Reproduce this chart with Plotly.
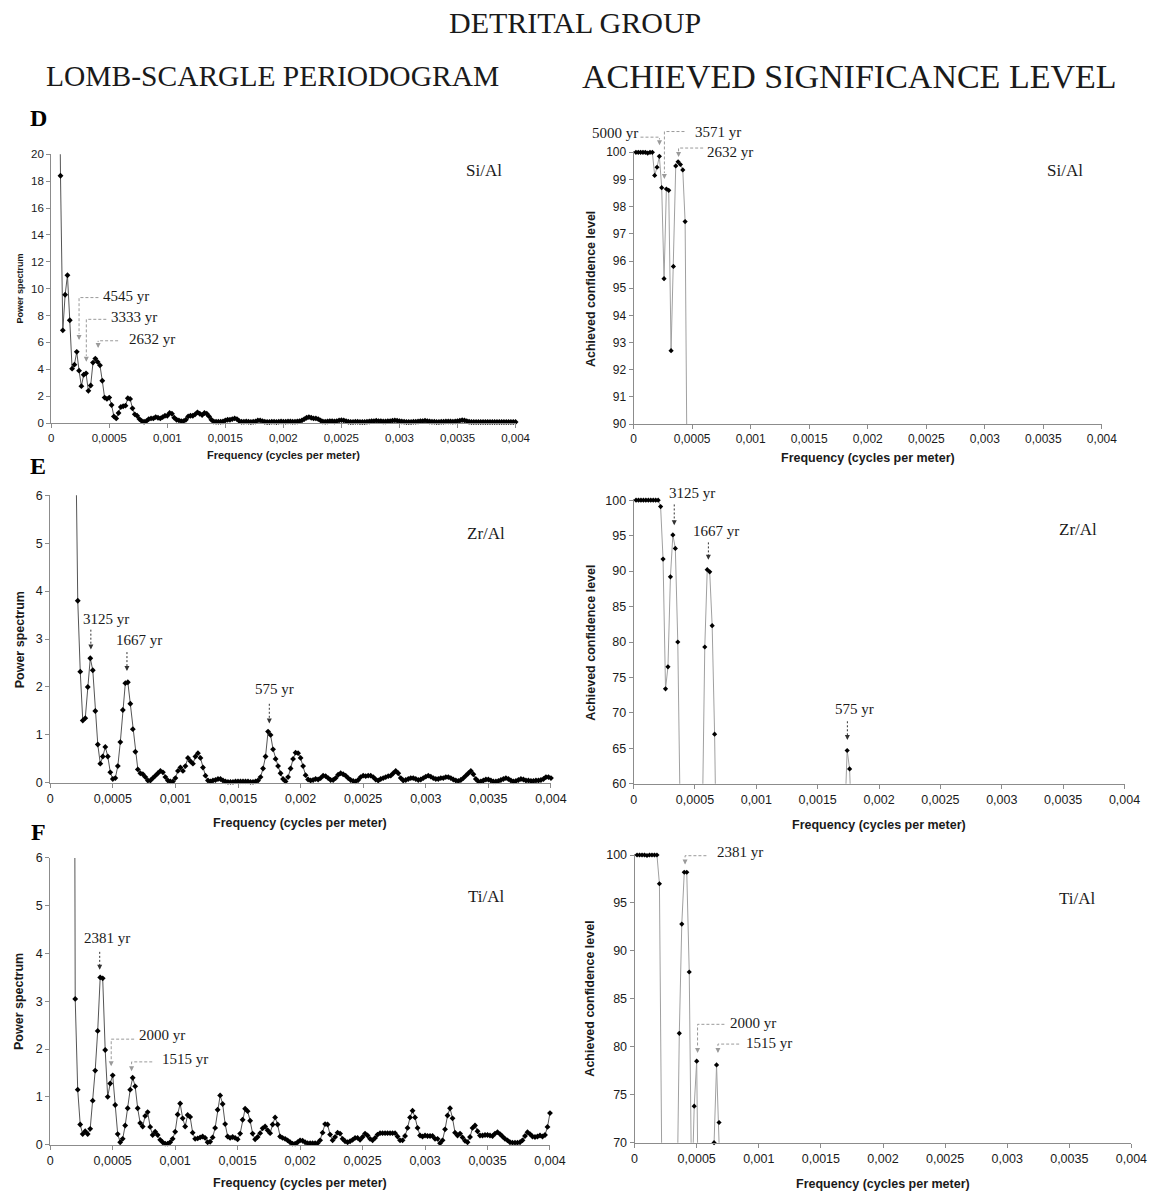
import numpy as np
import plotly.graph_objects as go

W, H = 1172, 1203
SERIF = "Liberation Serif"
SANS = "Liberation Sans"

# ---------------- data ----------------
FREQ_STEP = 2e-5                      # frequency grid step (cycles per meter)
k_index = np.arange(1, 201)
freq = k_index * FREQ_STEP            # 0.00002 ... 0.004

x_tick_vals = [0, 0.0005, 0.001, 0.0015, 0.002, 0.0025, 0.003, 0.0035, 0.004]
x_tick_text = ["0", "0,0005", "0,001", "0,0015", "0,002", "0,0025", "0,003", "0,0035", "0,004"]

# Lomb-Scargle power, Si/Al
power_si_al = [
    95, 62, 38, 18.4, 6.9, 9.55, 11.0, 7.65, 4.05, 4.35,
    5.3, 3.9, 2.75, 3.6, 3.7, 2.4, 2.8, 4.5, 4.8, 4.55,
    4.3, 3.15, 1.9, 1.8, 1.9, 1.35, 0.5, 0.35, 0.75, 1.2,
    1.25, 1.3, 1.85, 1.8, 1.1, 0.65, 0.55, 0.3, 0.15, 0.1,
    0.15, 0.3, 0.35, 0.35, 0.45, 0.4, 0.35, 0.45, 0.55, 0.55,
    0.75, 0.7, 0.4, 0.25, 0.2, 0.15, 0.15, 0.25, 0.5, 0.55,
    0.55, 0.65, 0.8, 0.7, 0.6, 0.75, 0.7, 0.5, 0.25, 0.12,
    0.1, 0.1, 0.1, 0.12, 0.2, 0.25, 0.25, 0.3, 0.35, 0.3,
    0.15, 0.1, 0.1, 0.12, 0.1, 0.08, 0.1, 0.12, 0.2, 0.2,
    0.15, 0.1, 0.08, 0.08, 0.1, 0.1, 0.08, 0.1, 0.12, 0.1,
    0.1, 0.12, 0.12, 0.1, 0.1, 0.12, 0.15, 0.2, 0.3, 0.4,
    0.45, 0.4, 0.35, 0.35, 0.3, 0.2, 0.12, 0.1, 0.12, 0.15,
    0.15, 0.12, 0.15, 0.2, 0.22, 0.2, 0.15, 0.1, 0.08, 0.08,
    0.1, 0.1, 0.08, 0.08, 0.08, 0.1, 0.12, 0.15, 0.15, 0.18,
    0.15, 0.15, 0.12, 0.12, 0.15, 0.15, 0.18, 0.2, 0.18, 0.15,
    0.12, 0.1, 0.08, 0.08, 0.08, 0.1, 0.1, 0.12, 0.15, 0.15,
    0.18, 0.15, 0.12, 0.1, 0.1, 0.08, 0.08, 0.1, 0.1, 0.12,
    0.12, 0.12, 0.1, 0.12, 0.15, 0.18, 0.22, 0.2, 0.15, 0.1,
    0.08, 0.08, 0.08, 0.08, 0.08, 0.08, 0.08, 0.08, 0.08, 0.08,
    0.08, 0.08, 0.08, 0.08, 0.08, 0.08, 0.08, 0.08, 0.08, 0.08,
]

# Lomb-Scargle power, Zr/Al
power_zr_al = [
    40, 35, 30, 26, 22, 18, 15, 12, 10, 8,
    3.8, 2.32, 1.3, 1.35, 2.0, 2.6, 2.35, 1.5, 0.8, 0.4,
    0.55, 0.75, 0.55, 0.22, 0.08, 0.1, 0.35, 0.85, 1.52, 2.08,
    2.1, 1.65, 1.12, 0.65, 0.28, 0.2, 0.18, 0.12, 0.05, 0.05,
    0.1, 0.15, 0.2, 0.25, 0.22, 0.12, 0.05, 0.03, 0.03, 0.1,
    0.25, 0.32, 0.25, 0.35, 0.52, 0.45, 0.4, 0.55, 0.62, 0.52,
    0.32, 0.15, 0.05, 0.03, 0.05, 0.06, 0.08, 0.08, 0.05, 0.03,
    0.02, 0.02, 0.02, 0.03, 0.03, 0.03, 0.03, 0.03, 0.03, 0.02,
    0.02, 0.03, 0.05, 0.12, 0.3, 0.55, 1.07, 1.0, 0.7, 0.5,
    0.35, 0.2, 0.08, 0.03, 0.12, 0.3, 0.5, 0.63, 0.62, 0.52,
    0.35, 0.16, 0.07, 0.05, 0.06, 0.08, 0.07, 0.1, 0.15, 0.14,
    0.1, 0.06, 0.06, 0.1, 0.17, 0.2, 0.18, 0.15, 0.1, 0.06,
    0.04, 0.03, 0.06, 0.12, 0.15, 0.14, 0.15, 0.15, 0.12, 0.07,
    0.05, 0.08, 0.1, 0.12, 0.14, 0.15, 0.2, 0.25, 0.2, 0.1,
    0.05, 0.06, 0.08, 0.1, 0.1, 0.08, 0.06, 0.07, 0.1, 0.13,
    0.15, 0.13, 0.1, 0.08, 0.08, 0.1, 0.1, 0.12, 0.12, 0.1,
    0.07, 0.05, 0.04, 0.06, 0.1, 0.15, 0.2, 0.25, 0.18, 0.08,
    0.03, 0.03, 0.05, 0.07, 0.07, 0.05, 0.03, 0.03, 0.04, 0.06,
    0.08, 0.1, 0.08, 0.05, 0.03, 0.04, 0.06, 0.08, 0.07, 0.05,
    0.05, 0.04, 0.04, 0.05, 0.05, 0.06, 0.08, 0.12, 0.12, 0.1,
]

# Lomb-Scargle power, Ti/Al
power_ti_al = [
    40, 34, 28, 23, 19, 15, 12, 9, 25, 3.05,
    1.15, 0.42, 0.22, 0.28, 0.22, 0.33, 0.92, 1.55, 2.38, 3.5,
    3.48, 1.98, 1.0, 1.28, 1.45, 0.83, 0.22, 0.05, 0.12, 0.4,
    0.76, 1.15, 1.4, 1.22, 0.76, 0.45, 0.38, 0.6, 0.68, 0.37,
    0.2, 0.27, 0.2, 0.1, 0.05, 0.02, 0.02, 0.05, 0.12, 0.27,
    0.63, 0.86, 0.55, 0.38, 0.62, 0.58, 0.25, 0.12, 0.13, 0.15,
    0.17, 0.14, 0.05, 0.06, 0.15, 0.35, 0.73, 1.03, 0.85, 0.43,
    0.17, 0.14, 0.16, 0.14, 0.11, 0.23, 0.52, 0.75, 0.7, 0.5,
    0.23, 0.11, 0.16, 0.24, 0.34, 0.38, 0.3, 0.24, 0.42, 0.57,
    0.42, 0.17, 0.14, 0.12, 0.09, 0.05, 0.02, 0.02, 0.05, 0.09,
    0.08, 0.05, 0.03, 0.03, 0.03, 0.03, 0.03, 0.09, 0.25, 0.43,
    0.42, 0.21, 0.09, 0.16, 0.25, 0.23, 0.12, 0.07, 0.05, 0.07,
    0.1, 0.14, 0.14, 0.1, 0.16, 0.23, 0.19, 0.12, 0.09, 0.14,
    0.21, 0.24, 0.24, 0.24, 0.24, 0.24, 0.24, 0.24, 0.17, 0.09,
    0.09, 0.18, 0.35, 0.57, 0.71, 0.57, 0.35, 0.19, 0.17, 0.19,
    0.18, 0.18, 0.18, 0.12, 0.12, 0.03, 0.09, 0.32, 0.61, 0.76,
    0.55, 0.25, 0.19, 0.23, 0.15, 0.08, 0.05, 0.16, 0.35, 0.4,
    0.28, 0.19, 0.19, 0.2, 0.2, 0.19, 0.18, 0.23, 0.26, 0.22,
    0.17, 0.12, 0.09, 0.05, 0.04, 0.04, 0.04, 0.05, 0.09, 0.18,
    0.26, 0.22, 0.17, 0.16, 0.17, 0.19, 0.17, 0.2, 0.37, 0.66,
]

# Achieved confidence level (%), first frequencies of the same grid
asl_si_al = [
    100, 100, 100, 100, 100, 99.97, 100, 100, 99.15, 99.45,
    99.85, 98.7, 95.35, 98.65, 98.6, 92.7, 95.8, 99.5, 99.65, 99.55,
    99.35, 97.45, 86.3, 85, 86, 78, 40, 30, 55, 75,
    76, 77, 85, 84, 70, 50, 45, 30, 20, 15,
]
asl_zr_al = [
    100, 100, 100, 100, 100, 100, 100, 100, 100, 100,
    99.1, 91.7, 73.4, 76.5, 89.2, 95.1, 93.2, 80.0, 55, 35,
    42, 50, 42, 20, 8, 10, 30, 55.2, 79.3, 90.2,
    89.9, 82.3, 67.0, 43, 22, 18, 16, 12, 5, 5,
    10, 14, 18, 22, 20, 12, 5, 3, 3, 10,
    22, 27, 22, 30, 40, 36, 33, 42, 46, 40,
    27, 14, 5, 3, 5, 6, 8, 8, 5, 3,
    2, 2, 2, 3, 3, 3, 3, 3, 3, 2,
    2, 3, 5, 12, 27, 55, 64.7, 62.1, 51.6, 40,
    30, 18, 8, 3, 12, 27, 40, 47, 46, 40,
]
asl_ti_al = [
    100, 100, 100, 100, 99.95, 100, 100, 100, 100, 97.0,
    67.5, 35, 20, 25, 20, 30, 62, 81.4, 92.8, 98.2,
    98.2, 87.8, 64, 73.8, 78.5, 57, 20, 5, 12, 35,
    55, 70.0, 78.1, 72.1, 62, 38, 33, 48, 52, 32,
]

# ---------------- layout helpers ----------------
def PX(x):
    return x / W

def PY(y):
    return 1 - y / H

panels = [
    dict(x=(49, 521), ylo=421, yhi=149, yr=(0, 20), dtick=2, vals=power_si_al, kind="power", fs=11.5),
    dict(x=(641, 1117), ylo=422, yhi=147, yr=(90, 100), dtick=1, vals=asl_si_al, kind="asl", fs=12),
    dict(x=(48, 557), ylo=785, yhi=494, yr=(0, 6), dtick=1, vals=power_zr_al, kind="power", fs=12.5),
    dict(x=(641, 1140), ylo=786, yhi=499, yr=(60, 100), dtick=5, vals=asl_zr_al, kind="asl", fs=12.5),
    dict(x=(48, 556), ylo=1151, yhi=861, yr=(0, 6), dtick=1, vals=power_ti_al, kind="power", fs=12.5),
    dict(x=(642, 1147), ylo=1149, yhi=858, yr=(70, 100), dtick=5, vals=asl_ti_al, kind="asl", fs=12.5),
]

fig = go.Figure()
layout = dict(
    width=W, height=H, margin=dict(l=0, r=0, t=0, b=0),
    paper_bgcolor="white", plot_bgcolor="white", showlegend=False,
)

AXC = "#8c8c8c"

for i, p in enumerate(panels, start=1):
    sfx = "" if i == 1 else str(i)
    lo, hi = p["yr"]
    ppu = (p["ylo"] - p["yhi"]) / (hi - lo)
    pad_px = 1.5 if p["kind"] == "asl" else 0.0
    top_px = p["yhi"] - pad_px
    tickfont = dict(family=SANS, size=p["fs"], color="#1a1a1a")
    layout["xaxis" + sfx] = dict(
        domain=[PX(p["x"][0]), PX(p["x"][1])], range=[0, 0.004], anchor="y" + sfx,
        tickmode="array", tickvals=x_tick_vals, ticktext=x_tick_text,
        showline=True, linecolor=AXC, linewidth=1, ticks="outside", ticklen=4,
        tickcolor=AXC, showgrid=False, zeroline=False, tickfont=tickfont,
    )
    layout["yaxis" + sfx] = dict(
        domain=[PY(p["ylo"]), PY(top_px)], range=[lo, hi + pad_px / ppu], anchor="x" + sfx,
        tickmode="linear", tick0=lo, dtick=p["dtick"],
        showline=True, linecolor=AXC, linewidth=1, ticks="outside", ticklen=4,
        tickcolor=AXC, showgrid=False, zeroline=False, tickfont=tickfont,
    )
    xs = list(freq[: len(p["vals"])])
    ys = p["vals"]
    line_col = "#555555" if p["kind"] == "power" else "#a0a0a0"
    msize = 4.5 if p["kind"] == "power" else 4
    fig.add_trace(go.Scatter(
        x=xs, y=ys, mode="lines", line=dict(color=line_col, width=1),
        xaxis="x" + sfx, yaxis="y" + sfx, hoverinfo="skip",
    ))
    mx = [x for x, y in zip(xs, ys) if lo <= y <= hi]
    my = [y for y in ys if lo <= y <= hi]
    fig.add_trace(go.Scatter(
        x=mx, y=my, mode="markers", cliponaxis=False,
        marker=dict(symbol="diamond", size=msize, color="black", line=dict(width=0)),
        xaxis="x" + sfx, yaxis="y" + sfx, hoverinfo="skip",
    ))

annotations = []
shapes = []
DASH = "3px,2px"

def text(t, x, y, size, family=SERIF, xanchor="center", bold=False, angle=0, color="#1a1a1a"):
    annotations.append(dict(
        text=("<b>%s</b>" % t) if bold else t, x=PX(x), y=PY(y), xref="paper", yref="paper",
        xanchor=xanchor, yanchor="middle", showarrow=False, textangle=angle,
        font=dict(family=family, size=size, color=color),
    ))

def label(t, x, y, xanchor="left"):
    # serif peak label; small upward shift compensates the text box descent
    text(t, x, y - 2, 15, xanchor=xanchor)

def elbow(points, tip_y, color="#9a9a9a"):
    path = "M " + " L ".join("%f,%f" % (PX(a), PY(b)) for a, b in points)
    shapes.append(dict(type="path", path=path, xref="paper", yref="paper",
                       line=dict(color=color, width=1, dash=DASH)))
    xa, ya = points[-1]
    annotations.append(dict(
        text="", x=PX(xa), y=PY(tip_y), xref="paper", yref="paper",
        ax=0, ay=-(tip_y - ya) if tip_y - ya > 4 else -5, axref="pixel", ayref="pixel",
        showarrow=True, arrowhead=2, arrowsize=1, arrowwidth=1, arrowcolor=color,
    ))

def dotted_arrow(x, y0, y1):
    shapes.append(dict(type="line", x0=PX(x), x1=PX(x), y0=PY(y0), y1=PY(y1 - 4),
                       xref="paper", yref="paper",
                       line=dict(color="#333333", width=1, dash="2px,2px")))
    annotations.append(dict(
        text="", x=PX(x), y=PY(y1), xref="paper", yref="paper", ax=0, ay=-5,
        showarrow=True, arrowhead=2, arrowsize=1, arrowwidth=1, arrowcolor="#333333",
    ))

# titles
text("DETRITAL GROUP", 581, 16, 30)
text("LOMB-SCARGLE PERIODOGRAM", 274, 70, 29.5)
text("ACHIEVED SIGNIFICANCE LEVEL", 860, 70, 34)
text("D", 36, 112, 24, bold=True, color="black")
text("E", 36, 464, 24, bold=True, color="black")
text("F", 36, 835, 24, bold=True, color="black")

# series names
text("Si/Al", 489, 165, 17)
text("Si/Al", 1079, 165, 17)
text("Zr/Al", 491, 533, 17)
text("Zr/Al", 1093, 529, 17)
text("Ti/Al", 491, 900, 17)
text("Ti/Al", 1092, 902, 17)

# axis titles
text("Power spectrum", 17, 285, 9, family=SANS, bold=True, angle=-90)
text("Power spectrum", 17, 640, 12.5, family=SANS, bold=True, angle=-90)
text("Power spectrum", 17, 1006, 12.5, family=SANS, bold=True, angle=-90)
for yc in (285, 643, 1003):
    text("Achieved confidence level", 597, yc, 12.5, family=SANS, bold=True, angle=-90)
text("Frequency (cycles per meter)", 285, 453, 11, family=SANS, bold=True)
text("Frequency (cycles per meter)", 879, 456, 12.5, family=SANS, bold=True)
for xc, yc in ((302, 826), (890, 828), (302, 1190), (894, 1191)):
    text("Frequency (cycles per meter)", xc, yc, 12.5, family=SANS, bold=True)

# peak labels, D
label("4545 yr", 100, 294)
elbow([(97, 294), (77.3, 294), (77.3, 331)], 337)
label("3333 yr", 107.5, 316)
elbow([(105, 316), (84.7, 316), (84.7, 353)], 359)
label("2632 yr", 126, 337.7)
elbow([(117, 337.7), (96.7, 337.7), (96.7, 339)], 345)

label("5000 yr", 647, 129.5, xanchor="right")
elbow([(648, 131.7), (667.3, 131.7), (667.3, 134)], 140)
label("3571 yr", 701.7, 128.3)
elbow([(692.7, 126), (672.3, 126), (672.3, 168)], 174)
label("2632 yr", 714, 148.3)
elbow([(711.7, 142.7), (686.7, 142.7), (686.7, 146)], 151.7)

# peak labels, E
label("3125 yr", 104.7, 621.7, xanchor="center")
dotted_arrow(89.3, 630, 650)
label("1667 yr", 138.5, 642.3, xanchor="center")
dotted_arrow(126, 652.7, 671.7)
label("575 yr", 275.5, 691.7, xanchor="center")
dotted_arrow(270.7, 705, 725)

label("3125 yr", 700.5, 494, xanchor="center")
dotted_arrow(682.3, 503.3, 524.3)
label("1667 yr", 724.5, 531.7, xanchor="center")
dotted_arrow(717, 541.7, 559.3)
label("575 yr", 865.3, 712.7, xanchor="center")
dotted_arrow(858.3, 722.7, 741.7)

# peak labels, F
label("2381 yr", 106, 944, xanchor="center")
dotted_arrow(98.3, 956, 974)
label("2000 yr", 136.7, 1041.7)
elbow([(133.3, 1044.3), (110, 1044.3), (110, 1066)], 1071.7)
label("1515 yr", 160, 1066.7)
elbow([(151.7, 1067.3), (130.7, 1067.3), (130.7, 1071)], 1076.7)

label("2381 yr", 724, 857)
elbow([(715, 858.7), (693.3, 858.7), (693.3, 862)], 867.7)
label("2000 yr", 736.7, 1030)
elbow([(733.3, 1029.3), (706, 1029.3), (706, 1052)], 1058.3)
label("1515 yr", 753, 1050)
elbow([(748.3, 1049.3), (726.7, 1049.3), (726.7, 1052)], 1058.3)

layout["annotations"] = annotations
layout["shapes"] = shapes
fig.update_layout(**layout)

fig.write_html(
    "out.html",
    config={"displayModeBar": False},
    post_script="document.body.style.margin='0';document.body.style.overflow='hidden';",
)
